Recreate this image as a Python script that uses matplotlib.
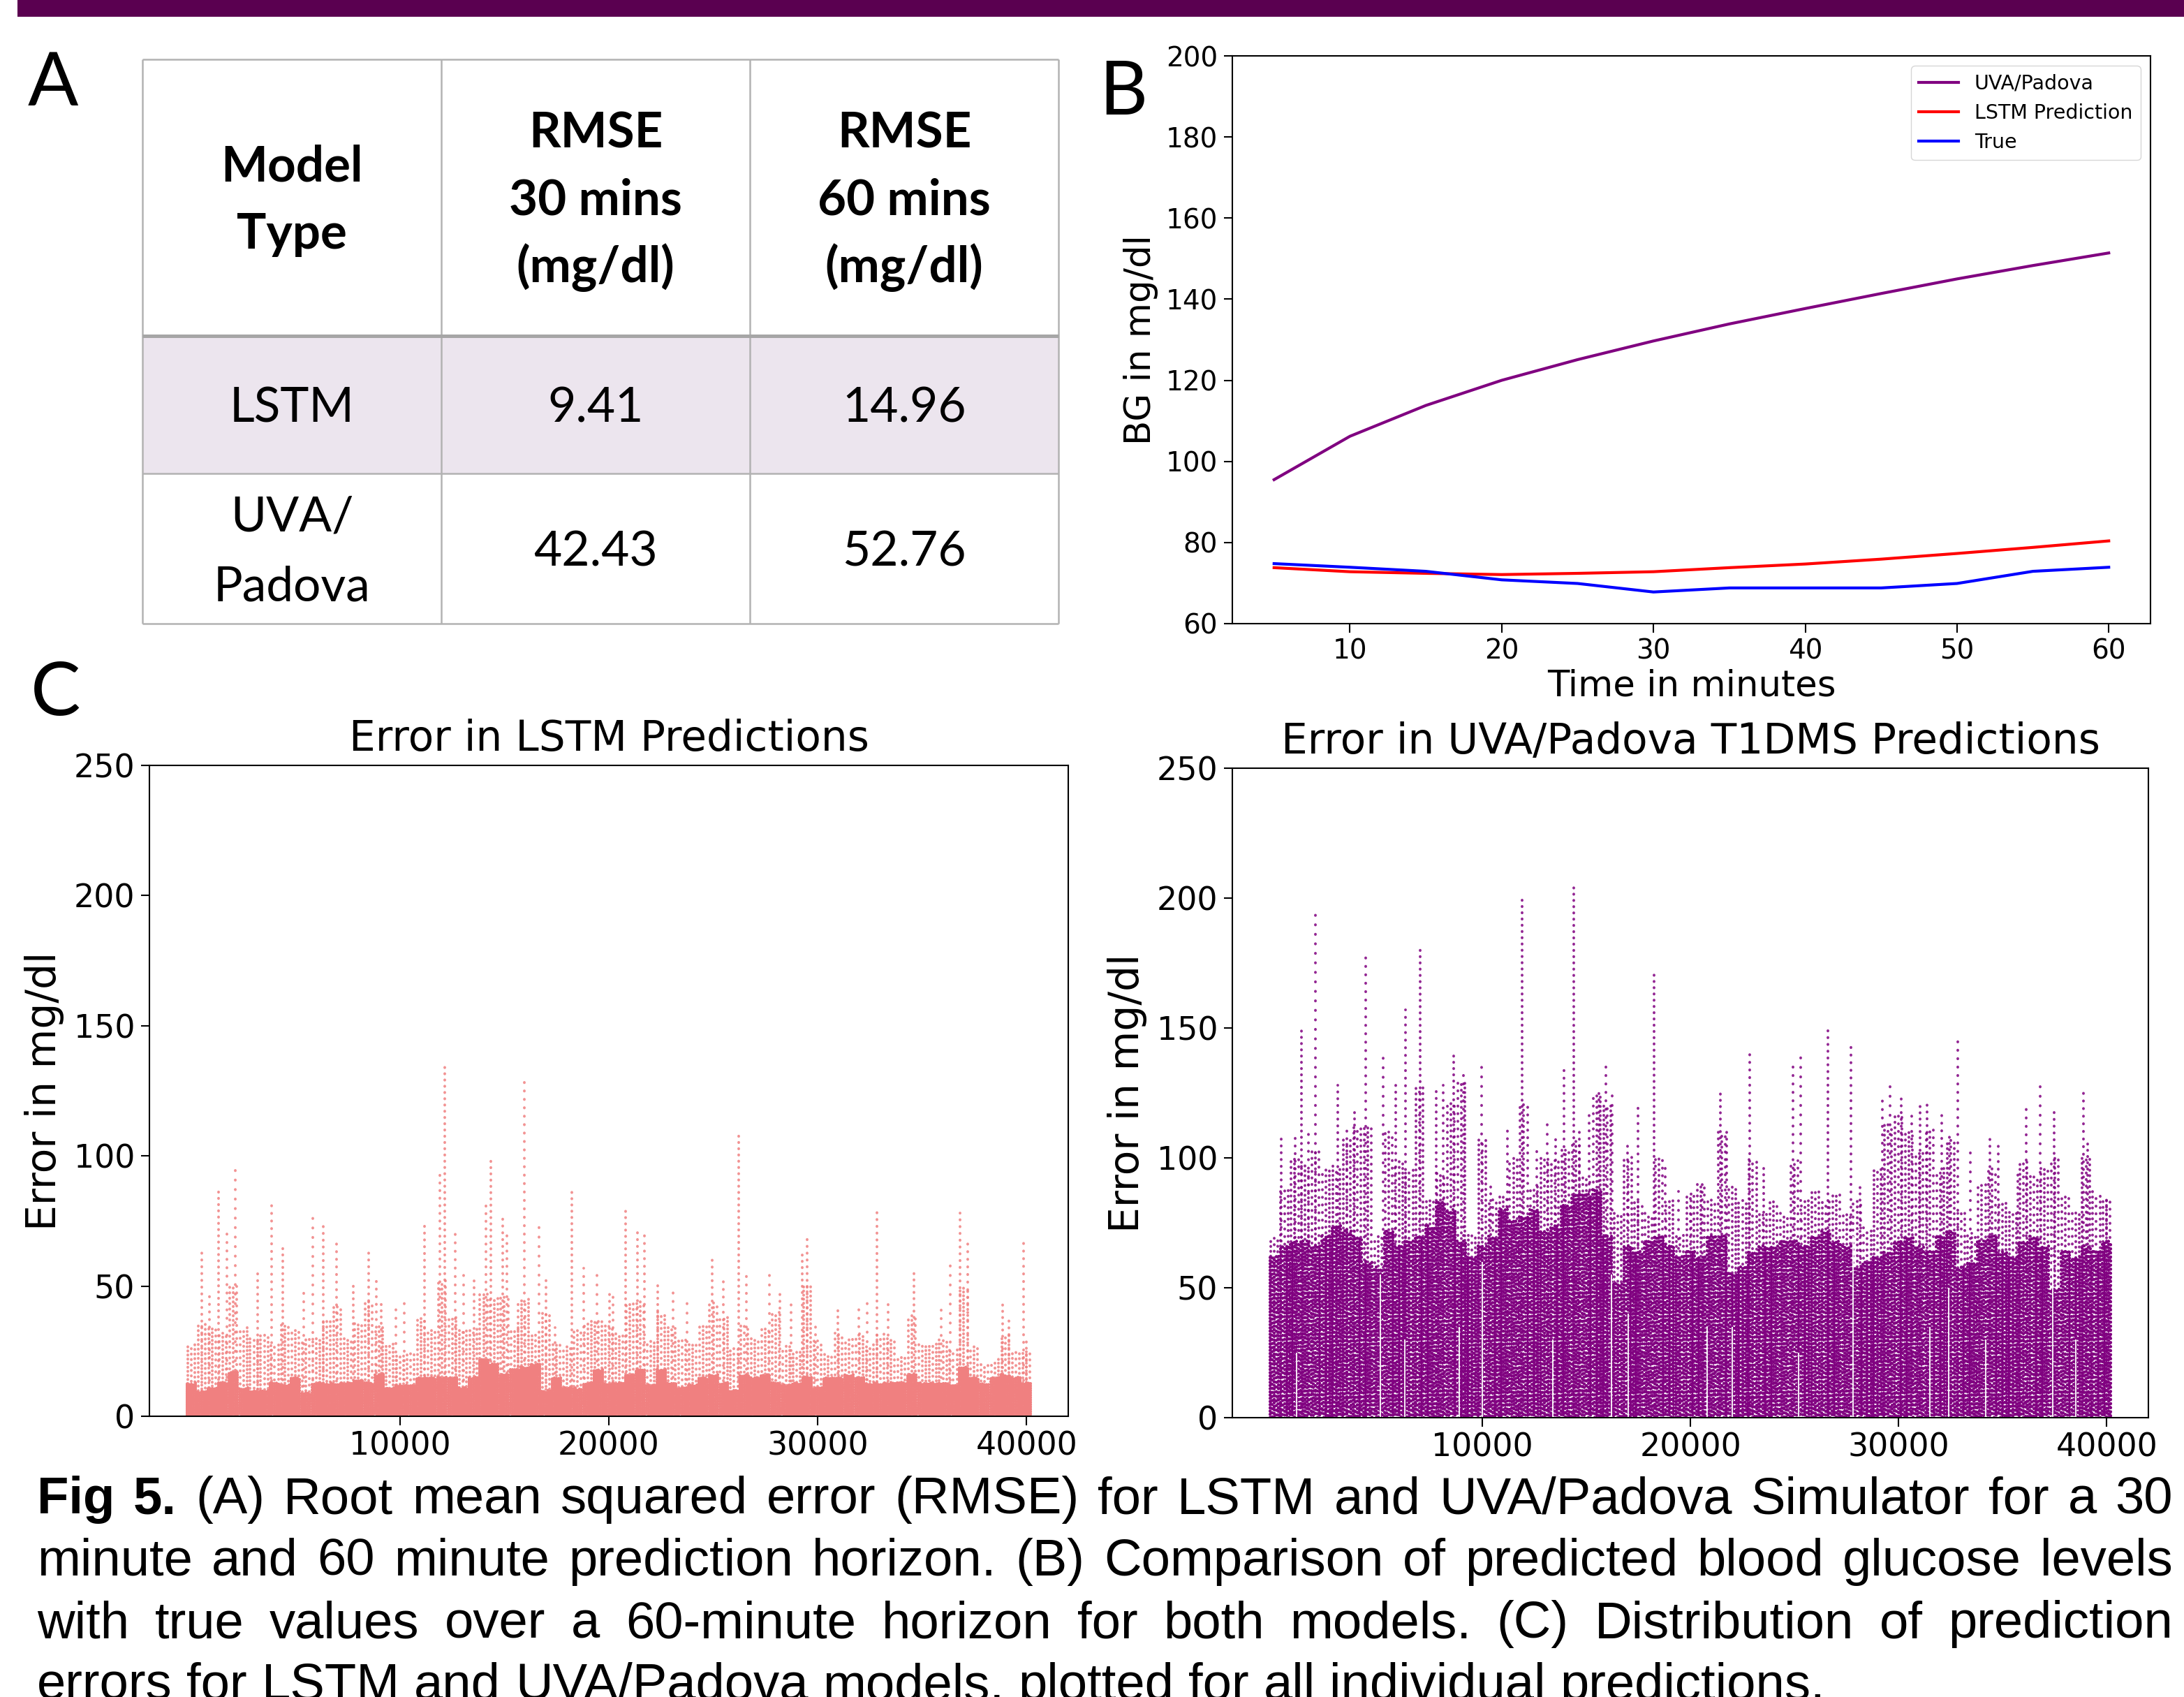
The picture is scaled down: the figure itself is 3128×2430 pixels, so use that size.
import numpy as np
import matplotlib.pyplot as plt
from matplotlib.patches import Rectangle

# ---- panel A : RMSE table ----
col_heads = [["Model", "Type"], ["RMSE", "30 mins", "(mg/dl)"], ["RMSE", "60 mins", "(mg/dl)"]]
row_names = [["LSTM"], ["UVA/", "Padova"]]
rmse_30 = ["9.41", "42.43"]
rmse_60 = ["14.96", "52.76"]

# ---- panel B : 60 minute horizon ----
minutes = [5, 10, 15, 20, 25, 30, 35, 40, 45, 50, 55, 60]
uva_bg = [95.5, 106.2, 113.8, 120.0, 125.1, 129.7, 133.9, 137.7, 141.4, 145.0, 148.3, 151.4]
lstm_bg = [73.8, 72.8, 72.4, 72.1, 72.4, 72.8, 73.8, 74.7, 75.9, 77.3, 78.8, 80.4]
true_bg = [74.8, 73.9, 72.9, 70.8, 69.9, 67.8, 68.8, 68.8, 68.8, 69.9, 72.9, 73.9]

sample_x = list(range(0, 40001, 500))
# dense (saturated) part of the point cloud
lstm_core = [13, 10, 11, 13, 17, 11, 10, 10, 13, 12, 15, 9, 13, 13, 13, 13, 14, 13, 16, 11,
             12, 12, 15, 15, 15, 15, 11, 15, 22, 20, 16, 18, 19, 20, 10, 15, 11, 11, 13, 18,
             13, 13, 16, 18, 12, 18, 13, 11, 12, 15, 16, 13, 10, 16, 15, 16, 13, 12, 13, 15,
             11, 15, 15, 16, 15, 13, 13, 13, 13, 16, 13, 13, 13, 12, 19, 15, 13, 15, 16, 15, 13]
uva_core = [62, 66, 68, 68, 66, 70, 74, 72, 70, 60, 58, 72, 66, 68, 70, 74, 84, 80, 68, 62,
            66, 70, 80, 76, 78, 80, 72, 74, 82, 86, 86, 88, 70, 52, 66, 64, 68, 70, 66, 62,
            64, 62, 70, 70, 56, 58, 64, 66, 66, 68, 68, 66, 70, 72, 68, 66, 58, 60, 62, 64,
            68, 70, 66, 64, 70, 72, 58, 60, 68, 70, 64, 62, 68, 70, 66, 50, 64, 62, 66, 64, 68]
# upper end of the dotted streaks
lstm_streak = [28, 36, 34, 32, 50, 34, 30, 32, 28, 36, 33, 30, 30, 37, 42, 30, 36, 44, 35, 28,
               24, 25, 38, 34, 52, 38, 34, 34, 48, 46, 46, 34, 45, 32, 40, 28, 27, 33, 37, 37,
               35, 32, 44, 44, 29, 40, 35, 30, 28, 35, 44, 39, 26, 35, 30, 34, 40, 27, 25, 50,
               29, 24, 32, 30, 32, 28, 32, 30, 24, 39, 28, 28, 30, 26, 50, 27, 20, 22, 31, 25, 25]
uva_streak = [69, 89, 100, 97, 103, 96, 97, 107, 113, 113, 70, 110, 99, 96, 128, 84, 94, 121, 130, 71,
              107, 84, 86, 100, 121, 89, 100, 99, 103, 107, 93, 124, 121, 79, 101, 83, 79, 100, 84, 71,
              86, 90, 84, 110, 89, 84, 100, 79, 84, 79, 99, 84, 87, 84, 86, 79, 84, 73, 96, 113,
              116, 110, 103, 111, 96, 107, 79, 71, 90, 96, 84, 79, 99, 93, 96, 100, 86, 79, 100, 87, 84]

# isolated high-error spikes
lstm_spike_x = [505, 885, 1306, 1700, 2122, 3190, 3867, 4388, 5373, 5837, 6330, 6977, 7765, 8482,
                8862, 9115, 9790, 10200, 11185, 11917, 12157, 12635, 13057, 13550, 14110, 14363,
                14926, 15123, 15658, 15954, 16643, 16980, 17430, 18218, 18780, 19415, 20020, 20197,
                20790, 21382, 21692, 22340, 23088, 23750, 24935, 25485, 26218, 26585, 27685, 28206,
                28742, 29278, 29503, 29912, 30970, 31957, 32366, 32845, 33367, 34608, 35905, 36356,
                36807, 37174, 38866, 39148, 39867, 39994]
lstm_spike_top = [65, 47, 88, 70, 97, 57, 82, 65, 48, 78, 73, 69, 51, 64,
                  53, 45, 43, 44, 74, 94, 134, 70, 55, 54, 82, 100,
                  78, 70, 45, 131, 73, 54, 34, 86, 57, 55, 47, 46,
                  81, 72, 72, 52, 49, 45, 61, 52, 108, 56, 56, 49,
                  43, 64, 68, 36, 42, 42, 45, 79, 43, 55, 41, 59,
                  78, 68, 45, 38, 67, 30]
uva_spike_x = [336, 1025, 1306, 1658, 1996, 3065, 3487, 3881, 4402, 5232, 5837, 6301, 7005, 7807,
               8130, 8623, 9115, 9974, 10410, 11197, 11929, 12633, 13125, 13520, 13928, 14406,
               14659, 15137, 15616, 15940, 16249, 16995, 17473, 18261, 18795, 19429, 20020, 20568,
               21458, 21740, 22841, 23505, 24945, 25312, 26611, 27713, 28165, 29238, 29577, 30141,
               30635, 31017, 31384, 32076, 32443, 32852, 33460, 34377, 34801, 35719, 36142, 36806,
               37484, 38867, 39066, 40000]
uva_spike_top = [109, 109, 149, 112, 195, 128, 111, 119, 180, 140, 129, 157, 181, 128,
                 128, 141, 132, 138, 89, 112, 200, 104, 114, 109, 134, 206,
                 112, 119, 126, 136, 124, 107, 120, 172, 97, 87, 87, 91,
                 127, 112, 140, 97, 136, 142, 150, 145, 90, 122, 128, 123,
                 118, 120, 121, 118, 109, 146, 105, 109, 107, 94, 119, 131,
                 119, 126, 106, 84]
# thin white gaps in the dense UVA band
uva_gap_x = [1100, 5100, 6300, 8900, 10000, 13400, 16200, 17000, 20800, 22000, 25200, 27800,
             31500, 32400, 34200, 37400, 38500]
uva_gap_top = [25, 55, 30, 35, 60, 30, 55, 40, 35, 35, 25, 70, 35, 50, 30, 60, 30]

caption = [
    "Fig 5. (A) Root mean squared error (RMSE) for LSTM and UVA/Padova Simulator for a 30",
    "minute and 60 minute prediction horizon. (B) Comparison of predicted blood glucose levels",
    "with true values over a 60-minute horizon for both models. (C) Distribution of prediction",
    "errors for LSTM and UVA/Padova models, plotted for all individual predictions.",
]

W, H = 3128, 2430
fig = plt.figure(figsize=(W / 100, H / 100), dpi=100)

# background axes in pixel units (origin top-left)
bg = fig.add_axes([0, 0, 1, 1])
bg.set_xlim(0, W)
bg.set_ylim(H, 0)
bg.axis("off")

bg.add_patch(Rectangle((25, 0), W - 25, 24, color="#5a0050", lw=0))

# table
cx = [204, 632, 1074, 1516]
ry = [85, 481, 678, 893]
grid = "#b2b2b2"
bg.add_patch(Rectangle((cx[0], ry[1]), cx[3] - cx[0], ry[2] - ry[1], color="#ece5ee", lw=0))
for x in cx:
    bg.plot([x, x], [ry[0], ry[3]], color=grid, lw=1.8, solid_capstyle="butt")
for i, y in enumerate(ry):
    bg.plot([cx[0], cx[3]], [y, y], color="#a6a6a6" if i == 1 else grid,
            lw=3.6 if i == 1 else 1.8, solid_capstyle="butt")

def cell_text(col, top, bot, lines, weight, size, cap, pitch):
    xc = (cx[col] + cx[col + 1]) / 2
    yc = (top + bot) / 2
    n = len(lines)
    for i, s in enumerate(lines):
        yb = yc + cap / 2 + (i - (n - 1) / 2) * pitch
        bg.text(xc, yb, s, ha="center", va="baseline", fontsize=size,
                fontweight=weight, family="Lato")

for j, head in enumerate(col_heads):
    cell_text(j, ry[0], ry[1], head, "bold", 51, 50, 96)
for r in range(2):
    cell_text(0, ry[r + 1], ry[r + 2], row_names[r], "normal", 50, 50, 100)
    cell_text(1, ry[r + 1], ry[r + 2], [rmse_30[r]], "normal", 50, 50, 100)
    cell_text(2, ry[r + 1], ry[r + 2], [rmse_60[r]], "normal", 50, 50, 100)

# panel letters
for lab, x, y in [("A", 40, 151), ("B", 1574, 164), ("C", 44, 1024)]:
    bg.text(x, y, lab, fontsize=77, family="Lato", va="baseline", ha="left")

# ---- panel B ----
axb = fig.add_axes([1765 / W, 1 - 893 / H, (3080 - 1765) / W, (893 - 80) / H])
axb.plot(minutes, uva_bg, color="purple", lw=3, label="UVA/Padova")
axb.plot(minutes, lstm_bg, color="red", lw=3, label="LSTM Prediction")
axb.plot(minutes, true_bg, color="blue", lw=3, label="True")
axb.set_ylim(60, 200)
axb.set_xticks([10, 20, 30, 40, 50, 60])
axb.set_yticks(range(60, 201, 20))
axb.set_xlabel("Time in minutes", fontsize=37, labelpad=4)
axb.set_ylabel("BG in mg/dl", fontsize=37, labelpad=8)
axb.tick_params(labelsize=28, length=9, width=1.5, pad=6)
for s in axb.spines.values():
    s.set_linewidth(1.5)
axb.legend(fontsize=20.5, loc="upper right")

# ---- panel C ----
# each 500-sample bin is painted as a few dotted sub-columns so it reads as a point cloud
phase = [0.0, 0.83, 0.31, 1.17, 0.58, 0.12, 0.95, 0.44, 1.29, 0.71, 0.22, 1.05, 0.5]

def dotted_bin(ax, xs, tops, color, offsets, lw, gaps, alpha):
    xs = np.asarray(xs, dtype=float)
    n = len(phase)
    for k, off in enumerate(offsets):
        styles = [(phase[(3 * k + j) % n], (0.1, gaps[(k + 2 * j) % len(gaps)])) for j in range(n)]
        ax.vlines(xs + off, 0, tops, colors=color, lw=lw, alpha=alpha,
                  linestyles=styles, capstyle="round")

def error_panel(rect, core, streak, sx, stop, color, title, core_gaps, streak_gaps,
                gap_lines=None):
    ax = fig.add_axes(rect)
    dotted_bin(ax, sample_x, core, color, [-200, -100, 0, 100, 200], 3.0, core_gaps, 1.0)
    dotted_bin(ax, sample_x, streak, color, [-170, 0, 170], 2.8, streak_gaps, 0.85)
    dotted_bin(ax, sx, stop, color, [0], 2.8, [2.4, 3.0, 2.7, 3.4, 2.2], 0.85)
    if gap_lines is not None:
        ax.vlines(gap_lines[0], 0, gap_lines[1], colors="white", lw=1.3)
    ax.set_xlim(-2000, 42000)
    ax.set_ylim(0, 250)
    ax.set_xticks([10000, 20000, 30000, 40000])
    ax.set_yticks(range(0, 251, 50))
    ax.set_title(title, fontsize=43, pad=15)
    ax.set_ylabel("Error in mg/dl", fontsize=42, labelpad=10)
    ax.tick_params(labelsize=33, length=9, width=1.5, pad=6)
    for s in ax.spines.values():
        s.set_linewidth(1.5)
    return ax

error_panel([214 / W, 1 - 2028 / H, 1316 / W, 932 / H], lstm_core, lstm_streak,
            lstm_spike_x, lstm_spike_top, "#f08080", "Error in LSTM Predictions",
            [0.55, 0.7, 0.6, 0.85, 0.65, 0.75, 0.5],
            [1.4, 1.9, 1.6, 2.3, 1.7, 1.3, 2.1])
error_panel([1765 / W, 1 - 2030 / H, 1312 / W, 930 / H], uva_core, uva_streak,
            uva_spike_x, uva_spike_top, "#800080", "Error in UVA/Padova T1DMS Predictions",
            [1.0, 1.3, 1.1, 1.5, 1.2, 0.9, 1.4],
            [1.7, 2.3, 1.9, 2.7, 2.0, 1.6, 2.5], gap_lines=(uva_gap_x, uva_gap_top))

# ---- caption, justified like the page ----
renderer = fig.canvas.get_renderer()
cap_size = 53.5
x_left, x_right = 53, 3112
baselines = [2167, 2256, 2345, 2434]
for li, line in enumerate(caption):
    words = line.split(" ")
    texts = []
    for wi, wd in enumerate(words):
        bold = li == 0 and wi < 2
        texts.append(bg.text(0, baselines[li], wd, fontsize=cap_size, va="baseline", ha="left",
                             family="Liberation Sans", fontweight="bold" if bold else "normal"))
    widths = [t.get_window_extent(renderer).width for t in texts]
    if li < len(caption) - 1:
        gap = (x_right - x_left - sum(widths)) / (len(words) - 1)
    else:
        gap = 0.278 * cap_size * 100 / 72
    x = x_left
    for t, w in zip(texts, widths):
        t.set_x(x)
        x += w + gap

fig.savefig("out.png", dpi=100)
